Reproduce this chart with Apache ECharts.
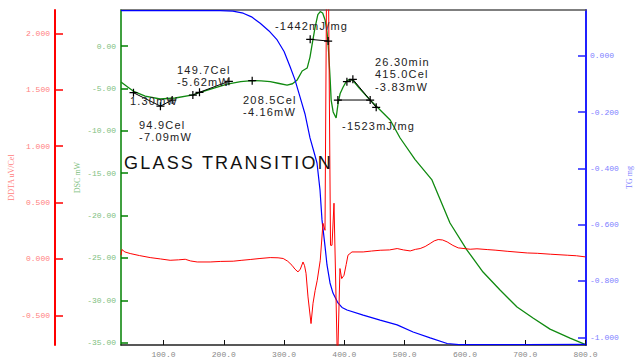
<!DOCTYPE html>
<html><head><meta charset="utf-8">
<script src="https://cdn.jsdelivr.net/npm/echarts@6/dist/echarts.min.js"></script>
<style>
html,body{margin:0;padding:0;background:#fff;}
#chart{width:635px;height:362px;}
#chart text[style*="11px"]{letter-spacing:1.2px;}
#chart text[style*="18px"]{letter-spacing:2.2px;}
</style></head><body><div id="chart"></div>
<script>
// tick values
const xTicks = [100, 200, 300, 400, 500, 600, 700, 800];
const ddtaTicks = [-0.5, 0, 0.5, 1, 1.5, 2];
const dscTicks = [0, -5, -10, -15, -20, -25, -30, -35];
const tgTicks = [0, -0.2, -0.4, -0.6, -0.8, -1];

// DDTA uV/Cel  [temp, value]
const ddta = [[29.5,0.033],[31,0.083],[36,0.062],[44.7,0.048],[60,0.03],[77.9,0.012],[95,0.0],[111,-0.012],[125,-0.008],[136,-0.003],[145,-0.018],[155.9,-0.027],[177.4,-0.027],[195,-0.022],[215.6,-0.020],[230,-0.012],[243.8,-0.005],[260,0.004],[277,0.012],[290,0.01],[298.5,0.004],[306,-0.02],[313.1,-0.056],[318,-0.09],[323.1,-0.115],[327,-0.09],[331.4,-0.027],[334,-0.06],[336.4,-0.127],[339.7,-0.337],[344.7,-0.573],[348,-0.393],[351.5,-0.28],[355,-0.189],[360,-0.012],[364.5,0.316],[367.9,0.254],[370.4,2.4],[373.7,2.4],[377,0.121],[379.5,0.121],[382.8,0.494],[388.6,-0.95],[392.7,-0.085],[395.6,-0.174],[399.4,-0.145],[403,-0.05],[406,0.033],[412.6,0.062],[431.2,0.062],[445,0.07],[459.4,0.077],[475,0.08],[487.6,0.092],[498,0.08],[509.2,0.071],[518,0.085],[525.7,0.092],[534,0.11],[542.3,0.137],[549,0.16],[555.6,0.172],[563,0.168],[570.5,0.151],[580,0.12],[588.8,0.098],[608.7,0.086],[620,0.09],[636.9,0.083],[650,0.078],[670,0.068],[703.4,0.053],[720,0.05],[741.5,0.042],[769.7,0.033],[785,0.028],[800,0.018]];

// DSC mW  [temp, value]
const dsc = [[29.5,-4.25],[40,-4.8],[49.7,-5.31],[69.6,-5.90],[94.5,-6.25],[119.4,-6.13],[149,-5.75],[160.8,-5.48],[185,-4.95],[205.6,-4.5],[228,-4.2],[247,-4.09],[262,-4.1],[277,-4.21],[292,-4.42],[305,-4.60],[314,-4.45],[321.8,-4.0],[330,-2.95],[338.3,-2.6],[343,-1.3],[347,0.4],[351.5,2.24],[356,3.7],[360,4.05],[364,3.9],[368,3.07],[371,1.8],[373,0.35],[376.5,-4.0],[378.1,-6.37],[381.4,-7.78],[386.3,-8.49],[389.7,-6.72],[393,-5.6],[398,-4.83],[403,-4.2],[406.3,-4.0],[410,-3.95],[414.6,-4.1],[425,-5.0],[442.7,-6.37],[454.3,-7.19],[476,-8.73],[492.5,-10.85],[517.4,-13.4],[545.3,-15.8],[575.2,-20.88],[603.4,-24.07],[630,-26.66],[658.2,-28.78],[686.4,-30.79],[712.9,-32.09],[741.1,-33.4],[774.3,-34.45],[799.2,-35.2]];

// TG mg  [temp, value]
const tg = [[29.5,0.16],[194,0.16],[215,0.158],[232.2,0.151],[246,0.138],[260.4,0.115],[275,0.088],[288.5,0.056],[300,0.015],[310,-0.039],[318,-0.085],[326.4,-0.146],[334.7,-0.207],[343,-0.292],[349.6,-0.342],[354.6,-0.381],[359.6,-0.477],[362.9,-0.583],[367.9,-0.676],[371.2,-0.743],[376.2,-0.807],[381.1,-0.843],[389.4,-0.878],[396.1,-0.894],[404.4,-0.903],[431.2,-0.921],[459.3,-0.939],[487.5,-0.956],[514,-0.981],[542.3,-1.002],[570.5,-1.022],[590,-1.026],[700,-1.026],[800,-1.025]];

// analysis construction lines on the DSC curve [temp, mW]
const annoLine1 = [[50.2,-5.51],[94.9,-7.09],[114.4,-6.37]];
const annoLine2 = [[148.7,-5.78],[159.7,-5.46],[208.5,-4.16]];
const annoLine3 = [[247.1,-4.09]];
const annoLine4 = [[343.3,0.79],[373.1,0.59]];
const annoLine5 = [[404.2,-4.21],[414.1,-3.93],[452.8,-7.23]];
const annoLine6 = [[389.2,-6.37],[442.8,-6.37]];

// text annotations anchored in DSC data coordinates
const annoTexts = ['-1442mJ/mg','149.7Cel','-5.62mW','1.30mW','94.9Cel','-7.09mW','208.5Cel','-4.16mW','26.30min','415.0Cel','-3.83mW','-1523mJ/mg','GLASS TRANSITION'];
const annoAt = [[284.9,2.36],[122.4,-2.83],[122.4,-4.21],[44.4,-6.45],[59.4,-9.32],[59.4,-10.73],[231.9,-6.37],[231.9,-7.82],[450.8,-1.85],[450.8,-3.30],[450.8,-4.80],[396.1,-9.44],[34.5,-13.84]];

const chart = echarts.init(document.getElementById('chart'), null, {renderer: 'svg'});
const mono = 'Liberation Mono';
const plus = 'path://M0,3.6H3.6V0H4.9V3.6H8.5V4.9H4.9V8.5H3.6V4.9H0Z';

function yAx(o) {
  return {
    type: 'value', position: o.pos, offset: o.offset, min: o.min, max: o.max,
    splitLine: {show: false},
    axisLine: {show: true, onZero: false, lineStyle: {color: o.line, width: o.lw}},
    axisTick: {show: true, inside: true, length: o.tl, customValues: o.ticks, lineStyle: {color: o.line, width: 1.5}},
    axisLabel: {show: true, customValues: o.ticks, color: o.lab, fontSize: 8, fontFamily: mono, margin: o.margin,
      formatter: v => v.toFixed(o.dec)},
    name: o.name, nameLocation: 'middle', nameGap: o.gap, nameMoveOverlap: false,
    nameTextStyle: {color: o.lab, fontSize: 8, fontFamily: 'Liberation Serif'}
  };
}

function annoSeries(d) {
  return {type: 'line', xAxisIndex: 0, yAxisIndex: 1, data: d, symbol: plus, symbolSize: 8, showSymbol: true,
    lineStyle: {color: '#000', width: 1}, itemStyle: {color: '#000'}, z: 5, silent: true};
}

chart.setOption({
  animation: false,
  grid: {left: 121, top: 10, width: 465, height: 335, containLabel: false, outerBoundsMode: 'none'},
  xAxis: [{
    type: 'value', position: 'bottom', min: 29.5, max: 800.8,
    splitLine: {show: false},
    axisLine: {onZero: false, lineStyle: {color: '#222', width: 1.5}},
    axisTick: {inside: true, length: 5, customValues: xTicks, lineStyle: {color: '#111'}},
    axisLabel: {customValues: xTicks, color: '#888', fontSize: 8, fontFamily: mono, margin: 5, formatter: v => v.toFixed(1)},
    name: 'Temp Cel', nameLocation: 'middle', nameGap: 12,
    nameTextStyle: {color: '#888', fontSize: 8, fontFamily: 'Liberation Serif'}
  }, {
    type: 'value', position: 'top', min: 29.5, max: 800.8,
    splitLine: {show: false},
    axisLine: {onZero: false, lineStyle: {color: '#555', width: 1.5}},
    axisTick: {show: false}, axisLabel: {show: false}
  }],
  yAxis: [
    yAx({pos: 'left', offset: 66, min: -0.763, max: 2.207, line: '#ff0000', lw: 2, tl: 8, ticks: ddtaTicks, lab: '#ff8080', dec: 3, margin: 5, name: 'DDTA uV/Cel', gap: 40}),
    yAx({pos: 'left', offset: 0, min: -35.27, max: 4.25, line: '#008000', lw: 1.5, tl: 7, ticks: dscTicks, lab: '#80c080', dec: 2, margin: 5, name: 'DSC mW', gap: 40}),
    yAx({pos: 'right', offset: 0, min: -1.0273, max: 0.1623, line: '#2020ff', lw: 2, tl: 8, ticks: tgTicks, lab: '#8080ff', dec: 3, margin: 4, name: 'TG mg', gap: 39})
  ],
  series: [
    {type: 'line', name: 'DSC', xAxisIndex: 0, yAxisIndex: 1, data: dsc, symbol: 'none', lineStyle: {color: '#108a10', width: 1.3}, z: 2},
    {type: 'line', name: 'TG', xAxisIndex: 0, yAxisIndex: 2, data: tg, symbol: 'none', lineStyle: {color: '#0000ff', width: 1.2}, z: 3},
    {type: 'line', name: 'DDTA', xAxisIndex: 0, yAxisIndex: 0, data: ddta, symbol: 'none', lineStyle: {color: '#ff0000', width: 1}, z: 4},
    annoSeries(annoLine1), annoSeries(annoLine2), annoSeries(annoLine3),
    annoSeries(annoLine4), annoSeries(annoLine5), annoSeries(annoLine6)
  ]
});

const graphics = annoTexts.map((t, i) => {
  const p = chart.convertToPixel({xAxisIndex: 0, yAxisIndex: 1}, annoAt[i]);
  const big = t === 'GLASS TRANSITION';
  return {type: 'text', x: p[0], y: p[1], z: 10, silent: true,
    style: {text: t, fill: big ? '#111' : '#222', fontSize: big ? 18 : 11, fontFamily: 'Liberation Sans',
      align: 'left', verticalAlign: 'middle', textAlign: 'left', textVerticalAlign: 'middle'}};
});
chart.setOption({graphic: graphics});
</script></body></html>
